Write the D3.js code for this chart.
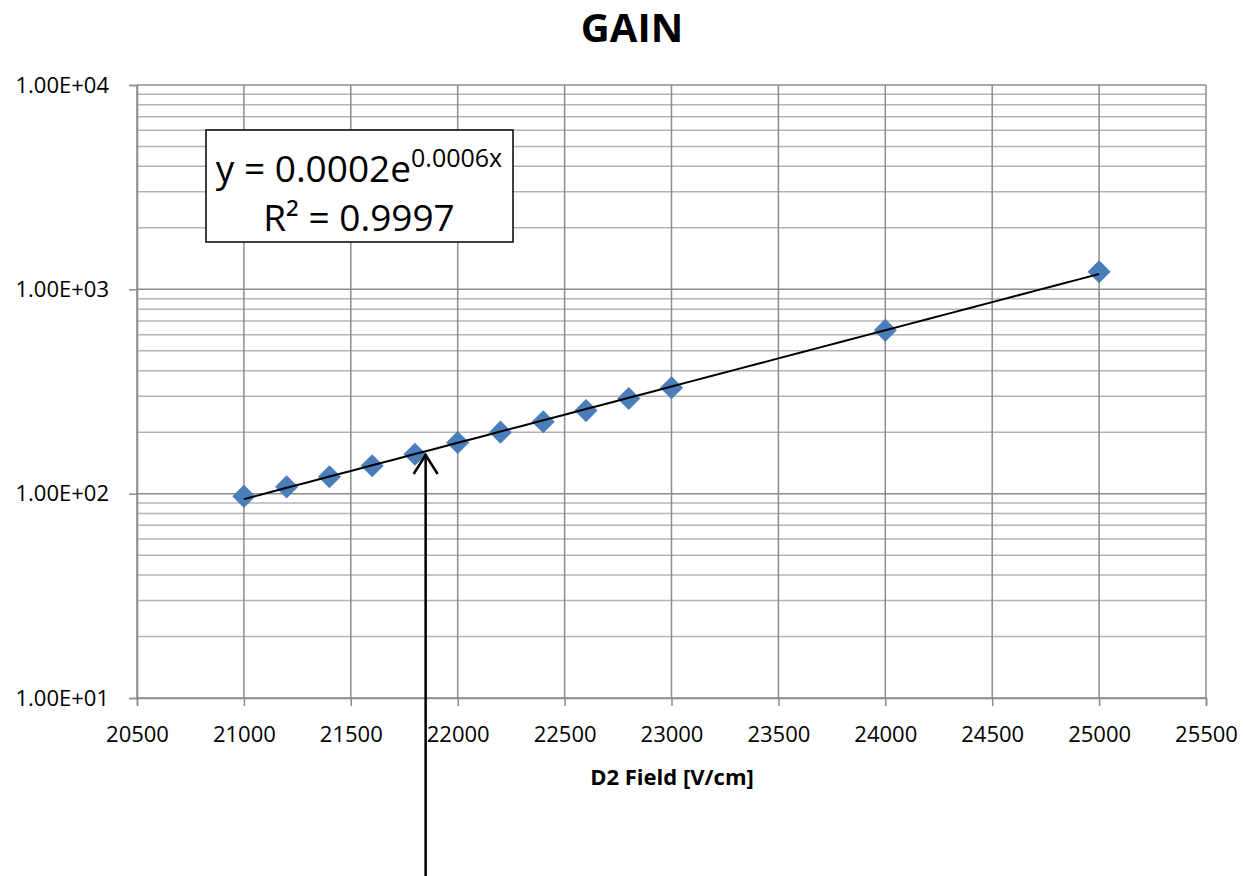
<!DOCTYPE html>
<html>
<head>
<meta charset="utf-8">
<script src="https://cdn.jsdelivr.net/npm/d3@7"></script>
<style>
  body { margin: 0; background: #fff; }
  text { font-family: "Open Sans", "Liberation Sans", sans-serif; }
</style>
</head>
<body>
<script>
// data
const field = [21000, 21200, 21400, 21600, 21800, 22000, 22200, 22400, 22600, 22800, 23000, 24000, 25000];
const gain = [97, 108, 121, 137, 156, 178, 200, 225, 255, 292, 330, 630, 1220];
const xTicks = [20500, 21000, 21500, 22000, 22500, 23000, 23500, 24000, 24500, 25000, 25500];
const yTicks = [10, 100, 1000, 10000];
const arrowAt = 21850, arrowTip = 160;

const width = 1243, height = 876;
const margin = {top: 85, right: 37, bottom: 178, left: 137};

const svg = d3.select("body").append("svg")
    .attr("width", width).attr("height", height);

const x = d3.scaleLinear()
    .domain([20500, 25500])
    .range([margin.left, width - margin.right]);

const y = d3.scaleLog()
    .domain([10, 10000])
    .range([height - margin.bottom, margin.top]);

// minor grid (2..9 of each decade)
const minor = [];
yTicks.slice(0, -1).forEach(d => { for (let k = 2; k < 10; k++) minor.push(d * k); });

svg.append("g")
  .selectAll("line").data(minor).join("line")
    .attr("x1", x(20500)).attr("x2", x(25500))
    .attr("y1", d => y(d)).attr("y2", d => y(d))
    .attr("stroke", "#b4b4b4").attr("stroke-width", 1.5);

svg.append("g")
  .selectAll("line").data(yTicks).join("line")
    .attr("x1", x(20500)).attr("x2", x(25500))
    .attr("y1", d => y(d)).attr("y2", d => y(d))
    .attr("stroke", "#8c8c8c").attr("stroke-width", 1.5);

svg.append("g")
  .selectAll("line").data(xTicks).join("line")
    .attr("x1", d => x(d)).attr("x2", d => x(d))
    .attr("y1", y(10)).attr("y2", y(10000))
    .attr("stroke", "#8c8c8c").attr("stroke-width", 1.5);

// axes
const xAxis = g => g
    .attr("transform", `translate(0,${y(10)})`)
    .call(d3.axisBottom(x).tickValues(xTicks).tickFormat(d3.format("d")).tickSize(8).tickPadding(20))
    .call(g => g.selectAll("line,path").attr("stroke", "#8c8c8c").attr("stroke-width", 1.5))
    .call(g => g.selectAll("text").attr("font-size", 22).attr("fill", "#000")
        .attr("font-family", "'Open Sans', sans-serif"));

const yAxis = g => g
    .attr("transform", `translate(${x(20500)},0)`)
    .call(d3.axisLeft(y).tickValues(yTicks).tickFormat(d => d3.format(".2e")(d).toUpperCase().replace(/E\+(\d)$/, "E+0$1")).tickSize(8).tickPadding(20))
    .call(g => g.selectAll("line,path").attr("stroke", "#8c8c8c").attr("stroke-width", 1.5))
    .call(g => g.selectAll("text").attr("font-size", 22).attr("fill", "#000")
        .attr("font-family", "'Open Sans', sans-serif"));

svg.append("g").call(xAxis);
svg.append("g").call(yAxis);

// exponential trendline (least squares on ln y)
const lx = field, ly = gain.map(Math.log);
const mx = d3.mean(lx), my = d3.mean(ly);
const b = d3.sum(lx, (v, i) => (v - mx) * (ly[i] - my)) / d3.sum(lx, v => (v - mx) ** 2);
const a = my - b * mx;
const fit = d3.range(field[0], field[field.length - 1] + 1, 100).map(v => [v, Math.exp(a + b * v)]);

// markers
svg.append("g")
  .selectAll("path").data(field).join("path")
    .attr("d", d3.symbol(d3.symbolDiamond2, 340))
    .attr("transform", (d, i) => `translate(${x(d)},${y(gain[i])})`)
    .attr("fill", "#4a7ebb");

svg.append("path")
    .datum(fit)
    .attr("fill", "none").attr("stroke", "#000").attr("stroke-width", 2)
    .attr("d", d3.line().x(d => x(d[0])).y(d => y(d[1])));

// equation box
const box = svg.append("g").attr("transform", "translate(206,130)");
box.append("rect").attr("width", 307).attr("height", 112)
    .attr("fill", "#fff").attr("stroke", "#000").attr("stroke-width", 1.5);
const eq = box.append("text").attr("x", 153).attr("y", 52).attr("text-anchor", "middle")
    .attr("font-size", 37);
eq.append("tspan").text("y = 0.0002e");
eq.append("tspan").attr("font-size", 25).attr("dy", -15).text("0.0006x");
box.append("text").attr("x", 153).attr("y", 101).attr("text-anchor", "middle")
    .attr("font-size", 37).text("R² = 0.9997");

// arrow
svg.append("line")
    .attr("x1", x(arrowAt)).attr("x2", x(arrowAt))
    .attr("y1", height).attr("y2", y(arrowTip) + 2)
    .attr("stroke", "#000").attr("stroke-width", 2.5);
svg.append("path")
    .attr("d", `M${x(arrowAt) - 12},${y(arrowTip) + 22}L${x(arrowAt)},${y(arrowTip) + 3}L${x(arrowAt) + 12},${y(arrowTip) + 22}`)
    .attr("fill", "none").attr("stroke", "#000").attr("stroke-width", 2.5);

// titles
svg.append("text").attr("x", 632).attr("y", 42).attr("text-anchor", "middle")
    .attr("font-size", 40).attr("font-weight", "bold").text("GAIN");
svg.append("text").attr("x", 672).attr("y", 785).attr("text-anchor", "middle")
    .attr("font-size", 22).attr("font-weight", "bold").text("D2 Field [V/cm]");
</script>
</body>
</html>
